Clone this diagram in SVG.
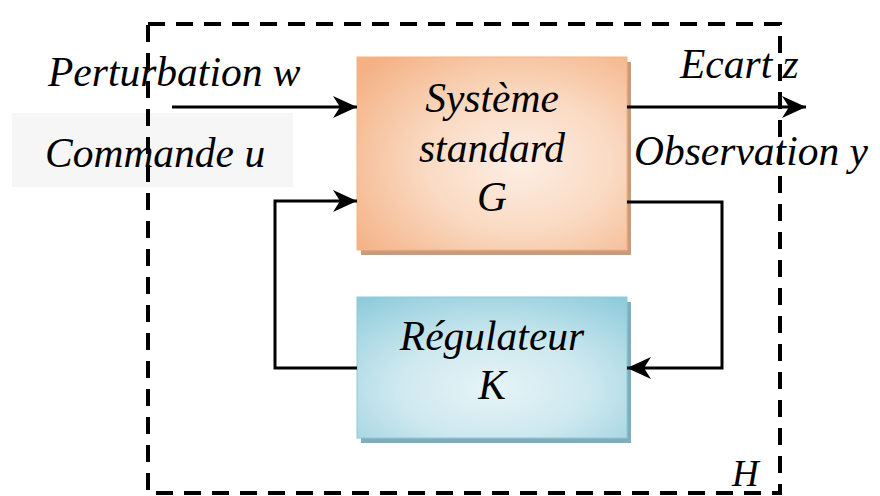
<svg xmlns="http://www.w3.org/2000/svg" width="880" height="496" viewBox="0 0 880 496">
  <style>
    .lbl { font-family: "Liberation Serif", "Times New Roman", serif; font-style: italic; font-size: 41.5px; fill: #000; }
    .mid { text-anchor: middle; }
    .wire { fill: none; stroke: #000; stroke-width: 3; stroke-linejoin: miter; }
    .arrow { marker-end: url(#head); }
    .frame { fill: none; stroke: #000; stroke-width: 4; stroke-dasharray: 17 11; }
  </style>
  <defs>
    <marker id="head" viewBox="-26 -13 28 26" refX="0" refY="0" markerWidth="28" markerHeight="26" markerUnits="userSpaceOnUse" orient="auto">
      <path d="M0,0 L-24,-11 L-17,0 L-24,11 Z" fill="#000"/>
    </marker>
    <radialGradient id="gOrange" cx="0.6" cy="0.55" r="0.75">
      <stop offset="0" stop-color="#fdeee4"/>
      <stop offset="0.45" stop-color="#fadbc4"/>
      <stop offset="1" stop-color="#f4b184"/>
    </radialGradient>
    <radialGradient id="gBlue" cx="0.5" cy="0.65" r="0.8">
      <stop offset="0" stop-color="#e6f4f7"/>
      <stop offset="0.45" stop-color="#cde8ef"/>
      <stop offset="1" stop-color="#8ecbdb"/>
    </radialGradient>
  </defs>

  <rect width="880" height="496" fill="#fff"/>

  <!-- faint backdrop behind the control input label -->
  <rect x="12" y="113" width="281" height="74" fill="#f6f6f6"/>

  <!-- closed-loop boundary H -->
  <g id="boundary">
    <rect class="frame" x="148" y="24" width="632" height="469"/>
    <text class="lbl" x="732" y="486" style="font-size:37px">H</text>
  </g>

  <!-- plant -->
  <g id="plant-G">
    <rect x="361" y="62" width="270" height="193" fill="#c99a7b"/>
    <rect x="357" y="57" width="270" height="193" fill="url(#gOrange)" stroke="#f3b486" stroke-width="1"/>
    <text class="lbl mid" x="492" y="112">Système</text>
    <text class="lbl mid" x="492" y="162">standard</text>
    <text class="lbl mid" x="492" y="211">G</text>
  </g>

  <!-- controller -->
  <g id="controller-K">
    <rect x="361" y="302" width="270" height="141" fill="#7eaebb"/>
    <rect x="357" y="297" width="270" height="141" fill="url(#gBlue)" stroke="#8fc9d8" stroke-width="1"/>
    <text class="lbl mid" x="492" y="350">Régulateur</text>
    <text class="lbl mid" x="492" y="399">K</text>
  </g>

  <!-- signal labels -->
  <g id="signals">
    <text class="lbl" x="48" y="86">Perturbation w</text>
    <text class="lbl" x="45" y="167">Commande u</text>
    <text class="lbl" x="680" y="78">Ecart z</text>
    <text class="lbl" x="634" y="165">Observation y</text>
  </g>

  <!-- connectors -->
  <g id="connectors">
    <path class="wire arrow" d="M172,107 H357"/>
    <path class="wire arrow" d="M357,368 H275 V201 H357"/>
    <path class="wire arrow" d="M627,107 H806"/>
    <path class="wire arrow" d="M627,202 H722 V368 H627"/>
  </g>
</svg>
